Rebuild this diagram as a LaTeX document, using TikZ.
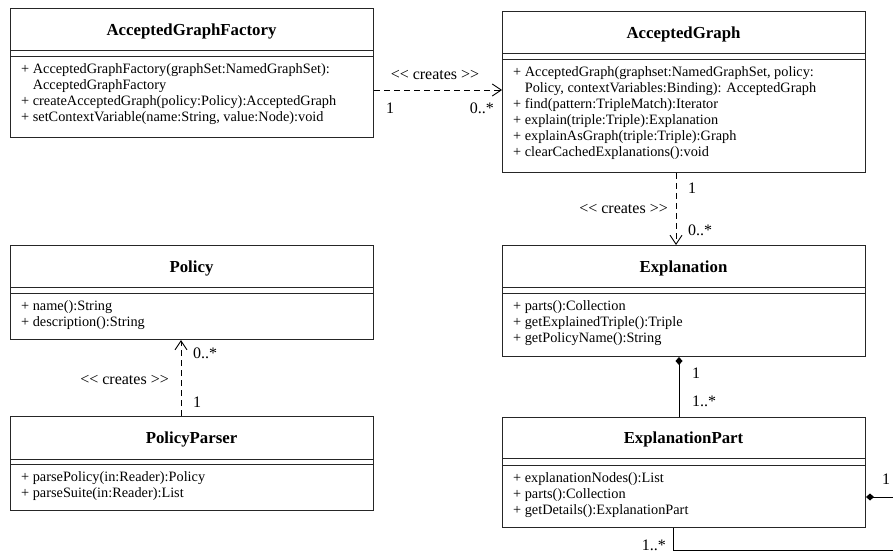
\documentclass[tikz,border=0pt]{standalone}
\usepackage{fontspec}
\setmainfont{Liberation Serif}
\usetikzlibrary{arrows.meta}
\newcommand{\crts}{<\kern0pt< creates >\kern0pt>}
\begin{document}
\begin{tikzpicture}[x=1pt,y=-1pt,
  box/.style={draw=black!85, line width=1pt, inner sep=0pt, anchor=north west},
  sepline/.style={draw=black!85, line width=1pt},
  ttl/.style={font=\fontsize{16.8}{19}\selectfont\bfseries, inner sep=0pt, anchor=base},
  op/.style={font=\fontsize{14.3}{16}\selectfont, inner sep=0pt, anchor=base west},
  lbl/.style={font=\fontsize{16}{18}\selectfont, inner sep=0pt},
  dep/.style={draw=black, line width=0.9pt, dash pattern=on 6pt off 4pt, -{Straight Barb[length=9pt,width=12pt]}},
  comp/.style={draw=black, line width=0.9pt, {Diamond[length=8pt,width=7pt]}-},
]
\useasboundingbox (0,0) rectangle (893,552);
\fill[white] (0,0) rectangle (893,552);
\clip (0,0) rectangle (893,552);

% ---------- AcceptedGraphFactory
\node[box, minimum width=363pt, minimum height=129pt] (fac) at (10,8) {};
\draw[sepline] (fac.west |- 0,50) -- (fac.east |- 0,50);
\draw[sepline] (fac.west |- 0,56) -- (fac.east |- 0,56);
\node[ttl] (facT) at (191.5,35) {AcceptedGraphFactory};
\node[op] (fac1) at (21,73) {+ AcceptedGraphFactory(graphSet:NamedGraphSet):};
\node[op] (fac2) at (32.6,89) {AcceptedGraphFactory};
\node[op] (fac3) at (21,105) {+ createAcceptedGraph(policy:Policy):AcceptedGraph};
\node[op] (fac4) at (21,121) {+ setContextVariable(name:String, value:Node):void};

% ---------- AcceptedGraph
\node[box, minimum width=363pt, minimum height=161pt] (ag) at (502,11) {};
\draw[sepline] (ag.west |- 0,53) -- (ag.east |- 0,53);
\draw[sepline] (ag.west |- 0,59) -- (ag.east |- 0,59);
\node[ttl] (agT) at (683.5,38) {AcceptedGraph};
\node[op] (ag1) at (513,76) {+ AcceptedGraph(graphset:NamedGraphSet, policy:};
\node[op] (ag2) at (524.6,92) {Policy, contextVariables:Binding): AcceptedGraph};
\node[op] (ag3) at (513,108) {+ find(pattern:TripleMatch):Iterator};
\node[op] (ag4) at (513,124) {+ explain(triple:Triple):Explanation};
\node[op] (ag5) at (513,140) {+ explainAsGraph(triple:Triple):Graph};
\node[op] (ag6) at (513,156) {+ clearCachedExplanations():void};

% ---------- Explanation
\node[box, minimum width=363pt, minimum height=111pt] (expl) at (502,245) {};
\draw[sepline] (expl.west |- 0,287) -- (expl.east |- 0,287);
\draw[sepline] (expl.west |- 0,293) -- (expl.east |- 0,293);
\node[ttl] (explT) at (683.5,272) {Explanation};
\node[op] (expl1) at (513,310) {+ parts():Collection};
\node[op] (expl2) at (513,326) {+ getExplainedTriple():Triple};
\node[op] (expl3) at (513,342) {+ getPolicyName():String};

% ---------- Policy
\node[box, minimum width=363pt, minimum height=94pt] (policy) at (10,245) {};
\draw[sepline] (policy.west |- 0,287) -- (policy.east |- 0,287);
\draw[sepline] (policy.west |- 0,293) -- (policy.east |- 0,293);
\node[ttl] (policyT) at (191.5,272) {Policy};
\node[op] (pol1) at (21,310) {+ name():String};
\node[op] (pol2) at (21,326) {+ description():String};

% ---------- PolicyParser
\node[box, minimum width=363pt, minimum height=94pt] (parser) at (10,416) {};
\draw[sepline] (parser.west |- 0,459) -- (parser.east |- 0,459);
\draw[sepline] (parser.west |- 0,464) -- (parser.east |- 0,464);
\node[ttl] (parserT) at (191.5,443) {PolicyParser};
\node[op] (par1) at (21,481) {+ parsePolicy(in:Reader):Policy};
\node[op] (par2) at (21,497) {+ parseSuite(in:Reader):List};

% ---------- ExplanationPart
\node[box, minimum width=363pt, minimum height=110pt] (part) at (502,417) {};
\draw[sepline] (part.west |- 0,458) -- (part.east |- 0,458);
\draw[sepline] (part.west |- 0,465) -- (part.east |- 0,465);
\node[ttl] (partT) at (683.5,443) {ExplanationPart};
\node[op] (part1) at (513,482) {+ explanationNodes():List};
\node[op] (part2) at (513,498) {+ parts():Collection};
\node[op] (part3) at (513,514) {+ getDetails():ExplanationPart};

% ---------- connectors
\draw[dep] (fac.east |- 0,90) -- (ag.west |- 0,90);
\node[lbl] (c1) at (435,75) {\crts};
\node[lbl, anchor=west] (c1a) at (386,108) {1};
\node[lbl, anchor=east] (c1b) at (494,108) {0..*};

\draw[dep] (ag.south -| 676,0) -- (expl.north -| 676,0);
\node[lbl, anchor=east] (c2) at (668,209) {\crts};
\node[lbl, anchor=west] (c2a) at (688,188) {1};
\node[lbl, anchor=west] (c2b) at (688,230) {0..*};

\draw[dep] (parser.north -| 181,0) -- (policy.south -| 181,0);
\node[lbl, anchor=east] (c3) at (169,380) {\crts};
\node[lbl, anchor=west] (c3a) at (193,353) {0..*};
\node[lbl, anchor=west] (c3b) at (193,402) {1};

\draw[comp] (expl.south -| 679,0) -- (part.north -| 679,0);
\node[lbl, anchor=west] (c4a) at (692,373) {1};
\node[lbl, anchor=west] (c4b) at (692,401) {1..*};

\coordinate (ur) at (905,497);
\coordinate (lr) at (905,550);
\draw[comp] (part.east |- ur) -- (ur) -- (lr) -| (part.south -| 673,0);
\node[lbl, anchor=west] (c5a) at (882,479) {1};
\node[lbl, anchor=base east] (c5b) at (666,550) {1..*};
\end{tikzpicture}
\end{document}
